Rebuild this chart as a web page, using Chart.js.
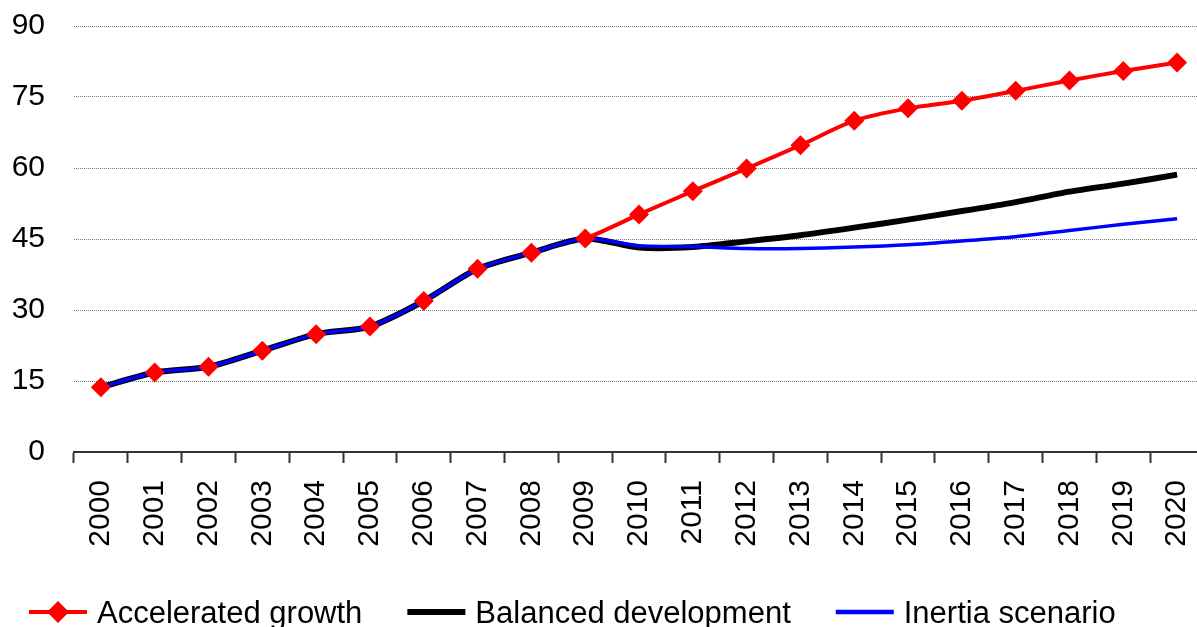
<!DOCTYPE html>
<html>
<head>
<meta charset="utf-8">
<script src="https://cdn.jsdelivr.net/npm/chart.js@4.4.1/dist/chart.umd.min.js"></script>
<style>
  html, body { margin: 0; padding: 0; overflow: hidden; background: #ffffff; }
  #wrap { width: 1214px; height: 640px; }
</style>
</head>
<body>
<div id="wrap"><canvas id="c" width="1214" height="640"></canvas></div>
<script>
// ---- data ----
const years = ['2000','2001','2002','2003','2004','2005','2006','2007','2008','2009','2010',
               '2011','2012','2013','2014','2015','2016','2017','2018','2019','2020'];
const accelerated = [13.7, 16.8, 18.0, 21.4, 24.9, 26.5, 31.9, 38.7, 42.1, 45.1, 50.2,
                     55.1, 59.9, 64.8, 70.0, 72.6, 74.2, 76.3, 78.5, 80.5, 82.3];
const balanced    = [13.7, 16.8, 18.0, 21.4, 24.9, 26.5, 31.9, 38.7, 42.1, 45.1, 43.2,
                     43.3, 44.5, 45.8, 47.4, 49.1, 50.9, 52.8, 55.0, 56.7, 58.6];
const inertia     = [13.7, 16.8, 18.0, 21.4, 24.9, 26.5, 31.9, 38.7, 42.1, 45.1, 43.6,
                     43.4, 43.0, 43.0, 43.3, 43.8, 44.6, 45.5, 46.8, 48.1, 49.3];
const seriesNames = ['Accelerated growth', 'Balanced development', 'Inertia scenario'];
const yTicks = [0, 15, 30, 45, 60, 75, 90];

const FONT = "'Liberation Sans', Arial, sans-serif";
const RED = '#ff0000', BLACK = '#000000', BLUE = '#0000ff';
const legendLineWidths = [4, 6, 4.5];

// legend drawn below the axis from the datasets' own labels and colours
const bottomLegend = {
  id: 'bottomLegend',
  afterDraw(chart) {
    const ctx = chart.ctx;
    ctx.save();
    ctx.font = '31px ' + FONT;
    ctx.textBaseline = 'alphabetic';
    ctx.textAlign = 'left';
    const lineY = 612, baseY = 623;
    let x = 29;
    chart.data.datasets.forEach((ds, i) => {
      ctx.strokeStyle = ds.borderColor;
      ctx.lineWidth = legendLineWidths[i];
      ctx.beginPath(); ctx.moveTo(x, lineY); ctx.lineTo(x + 58, lineY); ctx.stroke();
      if (ds.pointStyle === 'rectRot') {
        const cx = x + 29, r = 11;
        ctx.fillStyle = ds.pointBackgroundColor;
        ctx.beginPath();
        ctx.moveTo(cx, lineY - r); ctx.lineTo(cx + r, lineY); ctx.lineTo(cx, lineY + r); ctx.lineTo(cx - r, lineY);
        ctx.closePath(); ctx.fill();
      }
      ctx.fillStyle = '#000';
      ctx.fillText(ds.label, x + 68, baseY);
      x += 68 + ctx.measureText(ds.label).width + 45;
    });
    ctx.restore();
  }
};

new Chart(document.getElementById('c'), {
  type: 'line',
  data: {
    labels: years,
    datasets: [
      {
        label: seriesNames[0], data: accelerated, order: 0,
        borderColor: RED, backgroundColor: RED, borderWidth: 4,
        pointStyle: 'rectRot', pointRadius: 10, pointBorderWidth: 0,
        pointBackgroundColor: RED, tension: 0.25,
        segment: { borderColor: ctx => ctx.p0DataIndex < 9 ? 'rgba(0,0,0,0)' : undefined }
      },
      {
        label: seriesNames[1], data: balanced, order: 2,
        borderColor: BLACK, backgroundColor: BLACK, borderWidth: 6,
        pointRadius: 0, tension: 0.25
      },
      {
        label: seriesNames[2], data: inertia, order: 1,
        borderColor: BLUE, backgroundColor: BLUE, borderWidth: 3.5,
        pointRadius: 0, tension: 0.25
      }
    ]
  },
  plugins: [bottomLegend],
  options: {
    responsive: false,
    animation: false,
    devicePixelRatio: 1,
    layout: { padding: { left: 0, right: 0, top: 26, bottom: 88 } },
    plugins: {
      tooltip: { enabled: false },
      legend: { display: false }
    },
    scales: {
      x: {
        offset: true,
        grid: { display: true, offset: true, drawOnChartArea: false, drawTicks: true,
                tickLength: 11, tickColor: '#333', tickWidth: 2, color: '#333' },
        border: { display: true, color: '#333', width: 2 },
        ticks: { autoSkip: false, minRotation: 90, maxRotation: 90, padding: 17,
                 color: '#000', font: { family: FONT, size: 30 } },
        afterFit: s => { s.height = 100; s.paddingLeft = 0; s.paddingRight = 0; }
      },
      y: {
        min: 0, max: 90,
        afterBuildTicks: s => { s.ticks = yTicks.map(v => ({ value: v })); },
        grid: { drawTicks: false, lineWidth: 1,
                color: ctx => (ctx.tick && ctx.tick.value === 0) ? 'rgba(0,0,0,0)' : '#777' },
        border: { display: false, dash: [1, 1] },
        ticks: { padding: 29, color: '#000', font: { family: FONT, size: 30 } },
        afterFit: s => { s.width = 74; s.paddingTop = 0; s.paddingBottom = 0; }
      }
    }
  }
});
</script>
</body>
</html>
